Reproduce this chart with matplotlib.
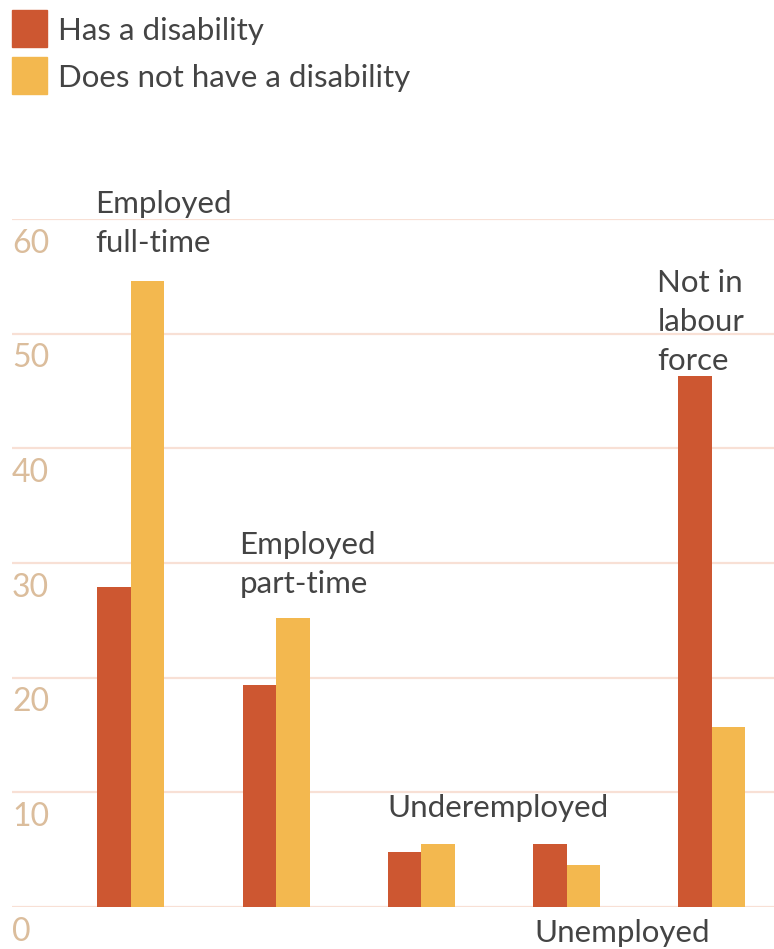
import matplotlib
matplotlib.use("Agg")
import matplotlib.pyplot as plt
import matplotlib.transforms as mtransforms

categories = ["Employed\nfull-time", "Employed\npart-time", "Underemployed", "Unemployed", "Not in\nlabour\nforce"]
has_disability = [27.9, 19.4, 4.8, 5.5, 46.3]
no_disability = [54.6, 25.2, 5.5, 3.7, 15.7]
series_names = ["Has a disability", "Does not have a disability"]
yticks = [0, 10, 20, 30, 40, 50, 60]

c_dis = "#cd5731"
c_nodis = "#f3b84f"
text_col = "#444444"
tick_col = "#dbbd9c"
grid_col = "#f8e0d5"

plt.rcParams['font.family'] = ['Lato', 'DejaVu Sans']
W, H = 774, 949
fig = plt.figure(figsize=(W / 100, H / 100), dpi=100)

def px(x0, y0, x1, y1):
    return [x0 / W, 1 - y1 / H, (x1 - x0) / W, (y1 - y0) / H]

ax = fig.add_axes(px(12, 219, 774, 907))
bw = 0.2306
xs = list(range(len(categories)))
ax.bar([x - bw / 2 for x in xs], has_disability, width=bw, color=c_dis, zorder=3)
ax.bar([x + bw / 2 for x in xs], no_disability, width=bw, color=c_nodis, zorder=3)
ax.set_xlim(-0.819, 4.427)
ax.set_ylim(0, 60)
for s in ax.spines.values():
    s.set_visible(False)
ax.set_yticks(yticks)
ax.set_xticks([])
ax.tick_params(left=False, labelleft=False)
ax.yaxis.grid(True, color=grid_col, linewidth=1.6, zorder=0)
ax.set_axisbelow(True)

fw = 'normal'
blend = mtransforms.blended_transform_factory(ax.transAxes, ax.transData)
for v in yticks:
    ax.text(0.0, v - 2.15, str(v), transform=blend, ha='left', va='center',
            fontsize=23, color=tick_col, fontweight=fw, clip_on=False)

# category labels
label_pos = [(-0.245, 59.6), (-0.252, 29.9), (-0.238, 8.6), (-0.224, -2.27), (-0.376, 51.0)]
for i, (lab, (dx, y)) in enumerate(zip(categories, label_pos)):
    ax.text(xs[i] + dx, y, lab, ha='left', va='center', fontsize=22.5, color=text_col,
            fontweight=fw, linespacing=1.47, clip_on=False)

# legend
for j, (name, col) in enumerate(zip(series_names, [c_dis, c_nodis])):
    y0 = 10 + j * 47
    fig.patches.append(plt.Rectangle((12 / W, 1 - (y0 + 37) / H), 35 / W, 37 / H,
                                     transform=fig.transFigure, color=col, figure=fig))
    fig.text(58 / W, 1 - (y0 + 21) / H, name, ha='left', va='center', fontsize=22.5,
             color=text_col, fontweight=fw)

fig.savefig("out.png", dpi=100)
